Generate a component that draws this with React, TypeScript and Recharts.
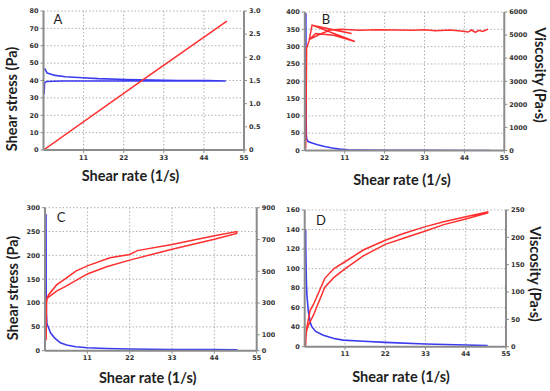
import { CartesianGrid, Line, LineChart, XAxis, YAxis } from "recharts";

const X_TICKS = [11, 22, 33, 44, 55];

// A
const A_STRESS_TICKS = [0, 10, 20, 30, 40, 50, 60, 70, 80];
const A_VISC_TICKS = [0, 0.5, 1, 1.5, 2, 2.5, 3];
const A_STRESS_X = [0, 25, 50.3];
const A_STRESS_Y = [0, 37, 74.2];
const A_VISC_X = [0.15, 0.3, 0.8, 5, 20, 35, 50, 45, 37, 30, 22.6, 15, 10.7, 6, 3.2, 1, 0.3];
const A_VISC_Y = [1.2, 1.45, 1.48, 1.49, 1.49, 1.49, 1.49, 1.5, 1.5, 1.51, 1.52, 1.54, 1.56, 1.58, 1.61, 1.66, 1.76];

// B
const B_STRESS_TICKS = [0, 50, 100, 150, 200, 250, 300, 350, 400];
const B_VISC_TICKS = [0, 1000, 2000, 3000, 4000, 5000, 6000];
const B_STRESS_X = [0.25, 0.3, 0.4, 0.5, 1.2, 2, 7, 12.9, 2, 13.8, 8, 3, 1.2, 4, 7, 10, 15, 20, 25, 30, 33, 36, 40, 43, 45, 46, 47, 48, 49, 50.5];
const B_STRESS_Y = [5, 45, 170, 295, 318, 362, 350, 338, 362, 315, 333, 338, 320, 335, 348, 350, 347, 349, 348, 347, 349, 346, 348, 345, 342, 348, 341, 347, 344, 350];
const B_VISC_X = [0.3, 0.32, 0.35, 0.38, 0.42, 0.5, 0.9, 2, 3.5, 5.5, 7.5, 9.6, 12, 16, 22, 33, 44, 51];
const B_VISC_Y = [5950, 4500, 3000, 1500, 700, 500, 390, 330, 250, 175, 110, 60, 30, 15, 8, 5, 3, 2];

// C
const C_STRESS_TICKS = [0, 50, 100, 150, 200, 250, 300];
const C_VISC_TICKS = [0, 100, 300, 500, 700, 900];
const C_STRESS_X = [0.3, 0.35, 0.4, 0.6, 1, 3, 5.6, 8, 11, 16.9, 22, 24, 33, 44, 49.8, 49.8, 44, 33, 22, 16, 11, 5.6, 3, 1, 0.6];
const C_STRESS_Y = [22, 60, 100, 112, 118, 138, 153, 167, 178, 195, 202, 210, 223, 241, 250, 246, 234, 213, 190, 176, 161, 136, 125, 113, 110];
const C_VISC_X = [0.25, 0.28, 0.3, 0.35, 0.5, 1, 1.5, 2.6, 4, 5.6, 8, 11, 16, 22, 33, 44, 50];
const C_VISC_Y = [860, 700, 420, 240, 170, 140, 110, 78, 50, 36, 25, 19, 14, 11, 8, 7, 6];

// D (bottom tick of the left axis is printed as 0)
const D_STRESS_TICKS = [20, 40, 60, 80, 100, 120, 140, 160];
const D_STRESS_LABELS = ["0", "40", "60", "80", "100", "120", "140", "160"];
const D_VISC_TICKS = [0, 50, 100, 150, 200, 250];
const D_STRESS_X = [0.25, 0.35, 0.6, 1.45, 2.35, 5.5, 8, 11, 16, 22, 27, 33, 38, 44, 50, 50, 44, 38, 33, 27, 22, 16, 11, 8, 5.5, 2.35, 1, 0.5];
const D_STRESS_Y = [20, 30, 40, 57, 63, 90, 100, 107, 119, 129, 136, 143, 148, 153, 158, 157, 150.8, 145, 138.5, 131, 124.8, 113, 99.6, 91, 81, 52, 42, 36];
const D_VISC_X = [0.25, 0.3, 0.45, 0.6, 1, 1.5, 1.9, 3, 5.1, 8, 10.5, 16, 22, 33, 44, 50];
const D_VISC_Y = [215, 180, 120, 95, 64, 45, 37, 28, 21, 15, 12, 10, 8, 5, 3, 2];

const zip = (xs: number[], ys: number[]) => xs.map((x, i) => ({ x, y: ys[i] }));

const AXIS = "#8c8c8c";
const RED = "#ff2f2f";
const BLUE = "#3b3bf0";
const TICK = { fontSize: 6.5, fill: "#333", fontFamily: "DejaVu Sans", fontWeight: 700 };
const TITLE_FONT = "Lato, 'Open Sans', sans-serif";

type PanelProps = {
  left: number;
  top: number;
  width: number;
  height: number;
  mTop: number;
  lw: number;
  rw: number;
  xh: number;
  stress: { x: number; y: number }[];
  visc: { x: number; y: number }[];
  lDomain: number[];
  lTicks: number[];
  lFmt?: (v: number) => string;
  rDomain: number[];
  rTicks: number[];
  rFmt?: (v: number) => string;
};

function Panel(p: PanelProps) {
  return (
    <div style={{ position: "absolute", left: p.left, top: p.top }}>
      <LineChart width={p.width} height={p.height} margin={{ top: p.mTop, right: 0, bottom: 0, left: 0 }}>
        <CartesianGrid yAxisId="l" stroke="#b0b0b0" strokeDasharray="1.5 2" />
        <XAxis
          dataKey="x"
          type="number"
          domain={[0, 55]}
          ticks={X_TICKS}
          interval={0}
          allowDataOverflow
          height={p.xh}
          tick={TICK}
          tickSize={3}
          axisLine={{ stroke: AXIS, strokeWidth: 2 }}
          tickLine={{ stroke: AXIS }}
        />
        <YAxis
          yAxisId="l"
          orientation="left"
          width={p.lw}
          type="number"
          domain={p.lDomain}
          ticks={p.lTicks}
          interval={0}
          allowDataOverflow
          tick={TICK}
          tickSize={3}
          tickFormatter={p.lFmt}
          axisLine={{ stroke: AXIS, strokeWidth: 2 }}
          tickLine={{ stroke: AXIS }}
        />
        <YAxis
          yAxisId="r"
          orientation="right"
          width={p.rw}
          type="number"
          domain={p.rDomain}
          ticks={p.rTicks}
          interval={0}
          allowDataOverflow
          tick={TICK}
          tickSize={3}
          tickFormatter={p.rFmt}
          axisLine={{ stroke: AXIS, strokeWidth: 2 }}
          tickLine={{ stroke: AXIS }}
        />
        <Line yAxisId="r" data={p.visc} dataKey="y" type="linear" stroke={BLUE} strokeWidth={1.6} dot={false} isAnimationActive={false} />
        <Line yAxisId="l" data={p.stress} dataKey="y" type="linear" stroke={RED} strokeWidth={1.5} dot={false} isAnimationActive={false} />
      </LineChart>
    </div>
  );
}

function Title({ x, y, text, rotate = 0, size = 14.5, weight = 700 }: { x: number; y: number; text: string; rotate?: number; size?: number; weight?: number }) {
  return (
    <div
      style={{
        position: "absolute",
        left: x,
        top: y,
        transform: `translate(-50%, -50%) rotate(${rotate}deg)`,
        whiteSpace: "nowrap",
        fontFamily: TITLE_FONT,
        fontSize: size,
        fontWeight: weight,
        color: "#1e1e1e",
        lineHeight: 1,
      }}
    >
      {text}
    </div>
  );
}

export default function App() {
  return (
    <div style={{ position: "absolute", left: 0, top: 0, width: 550, height: 391, background: "#fff", overflow: "hidden" }}>
      <Panel
        left={0}
        top={0}
        width={275}
        height={195}
        mTop={11}
        lw={43.5}
        rw={31}
        xh={45}
        stress={zip(A_STRESS_X, A_STRESS_Y)}
        visc={zip(A_VISC_X, A_VISC_Y)}
        lDomain={[0, 80]}
        lTicks={A_STRESS_TICKS}
        rDomain={[0, 3]}
        rTicks={A_VISC_TICKS}
        rFmt={(v) => (v === 0 ? "0" : v.toFixed(1))}
      />
      <Panel
        left={275}
        top={0}
        width={275}
        height={195}
        mTop={12}
        lw={29.8}
        rw={45.7}
        xh={44.5}
        stress={zip(B_STRESS_X, B_STRESS_Y)}
        visc={zip(B_VISC_X, B_VISC_Y)}
        lDomain={[0, 400]}
        lTicks={B_STRESS_TICKS}
        rDomain={[0, 6000]}
        rTicks={B_VISC_TICKS}
      />
      <Panel
        left={0}
        top={195}
        width={275}
        height={196}
        mTop={12.7}
        lw={45}
        rw={18.3}
        xh={40.3}
        stress={zip(C_STRESS_X, C_STRESS_Y)}
        visc={zip(C_VISC_X, C_VISC_Y)}
        lDomain={[0, 300]}
        lTicks={C_STRESS_TICKS}
        rDomain={[0, 900]}
        rTicks={C_VISC_TICKS}
      />
      <Panel
        left={275}
        top={195}
        width={275}
        height={196}
        mTop={15}
        lw={29.7}
        rw={44}
        xh={44.3}
        stress={zip(D_STRESS_X, D_STRESS_Y)}
        visc={zip(D_VISC_X, D_VISC_Y)}
        lDomain={[20, 160]}
        lTicks={D_STRESS_TICKS}
        lFmt={(v) => D_STRESS_LABELS[D_STRESS_TICKS.indexOf(v)] ?? String(v)}
        rDomain={[0, 250]}
        rTicks={D_VISC_TICKS}
      />

      <Title x={58} y={19} text="A" size={13} weight={400} />
      <Title x={326} y={19} text="B" size={13} weight={400} />
      <Title x={61} y={217} text="C" size={13} weight={400} />
      <Title x={321} y={220} text="D" size={13} weight={400} />

      <Title x={130.5} y={176} text="Shear rate (1/s)" />
      <Title x={402} y={180} text="Shear rate (1/s)" />
      <Title x={147.7} y={377.7} text="Shear rate (1/s)" />
      <Title x={401} y={376.7} text="Shear rate (1/s)" />

      <Title x={12} y={99} text="Shear stress (Pa)" rotate={-90} />
      <Title x={13} y={288} text="Shear stress (Pa)" rotate={-90} />
      <Title x={540} y={75} text="Viscosity (Pa·s)" rotate={90} />
      <Title x={535} y={274} text="Viscosity (Pa·s)" rotate={90} />
    </div>
  );
}
